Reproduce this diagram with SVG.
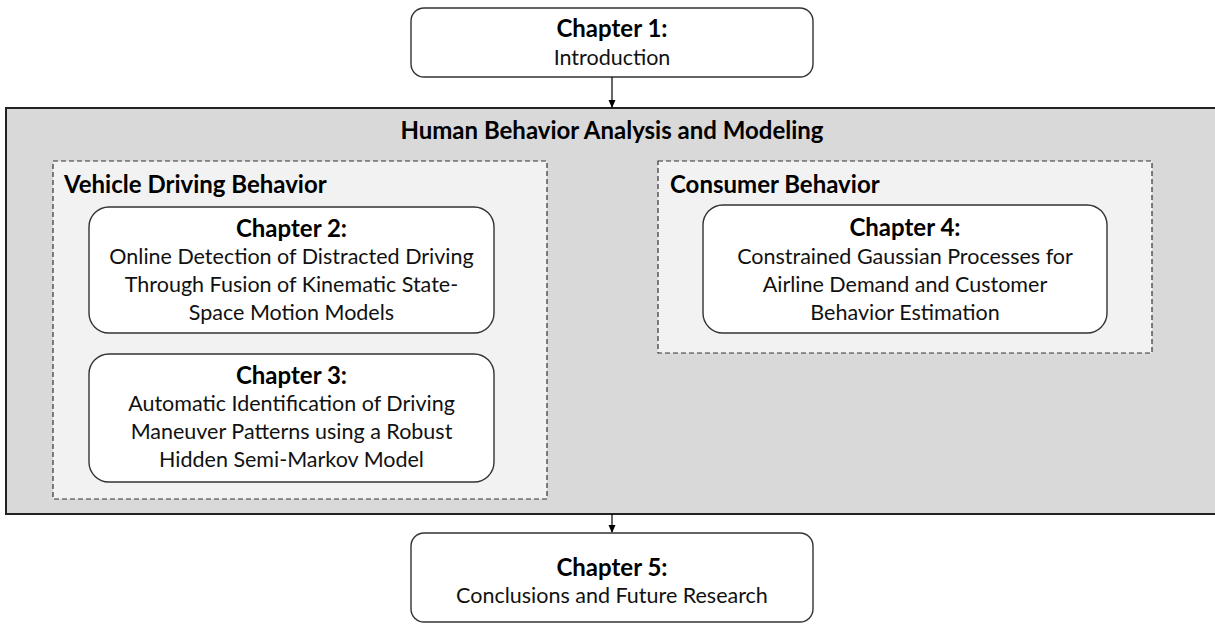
<svg xmlns="http://www.w3.org/2000/svg" width="1215" height="624" viewBox="0 0 1215 624">
<defs>
<marker id="arr" markerWidth="8" markerHeight="8" refX="7" refY="4" orient="auto" markerUnits="userSpaceOnUse">
<path d="M0,0.5 L8,4 L0,7.5 Z" fill="#000"/>
</marker>
<style>
.t{font-family:Lato,"Open Sans","Liberation Sans",sans-serif;font-size:21.5px;fill:#111;text-anchor:middle}
.h{font-family:Lato,"Open Sans","Liberation Sans",sans-serif;font-size:24px;font-weight:bold;fill:#000;text-anchor:middle}
.lbl{font-family:Lato,"Open Sans","Liberation Sans",sans-serif;font-size:24px;font-weight:bold;fill:#000}
.node{fill:#fff;stroke:#333;stroke-width:1.4}
.dash{fill:#f2f2f2;stroke:#333;stroke-width:1.2;stroke-dasharray:5,3}
.conn{stroke:#000;stroke-width:1.2;fill:none}
</style>
</defs>
<g id="panel-main">
<rect x="6" y="108" width="1215" height="406" fill="#d9d9d9" stroke="#222" stroke-width="2"/>
<text class="h" x="612" y="139">Human Behavior Analysis and Modeling</text>
</g>
<g id="panel-vehicle">
<rect class="dash" x="53" y="161" width="494" height="338"/>
<text class="lbl" x="64" y="193">Vehicle Driving Behavior</text>
</g>
<g id="panel-consumer">
<rect class="dash" x="658" y="161" width="494" height="192"/>
<text class="lbl" x="670" y="193">Consumer Behavior</text>
</g>
<g id="ch1">
<rect class="node" x="411" y="8" width="402" height="69" rx="13"/>
<text class="h" x="612" y="37">Chapter 1:</text>
<text class="t" x="612" y="65">Introduction</text>
</g>
<g id="ch2">
<rect class="node" x="89" y="207" width="405" height="126" rx="20"/>
<text class="h" x="291.5" y="237">Chapter 2:</text>
<text class="t" x="291.5" y="264">Online Detection of Distracted Driving</text>
<text class="t" x="291.5" y="292">Through Fusion of Kinematic State-</text>
<text class="t" x="291.5" y="320">Space Motion Models</text>
</g>
<g id="ch3">
<rect class="node" x="89" y="354" width="405" height="128" rx="20"/>
<text class="h" x="291.5" y="384">Chapter 3:</text>
<text class="t" x="291.5" y="411">Automatic Identification of Driving</text>
<text class="t" x="291.5" y="439">Maneuver Patterns using a Robust</text>
<text class="t" x="291.5" y="467">Hidden Semi-Markov Model</text>
</g>
<g id="ch4">
<rect class="node" x="703" y="205" width="404" height="128" rx="20"/>
<text class="h" x="905" y="236">Chapter 4:</text>
<text class="t" x="905" y="264">Constrained Gaussian Processes for</text>
<text class="t" x="905" y="292">Airline Demand and Customer</text>
<text class="t" x="905" y="320">Behavior Estimation</text>
</g>
<g id="ch5">
<rect class="node" x="411" y="533" width="402" height="89" rx="13"/>
<text class="h" x="612" y="576">Chapter 5:</text>
<text class="t" x="612" y="603">Conclusions and Future Research</text>
</g>
<g id="connectors">
<line class="conn" x1="612" y1="77" x2="612" y2="107" marker-end="url(#arr)"/>
<line class="conn" x1="612" y1="514" x2="612" y2="532" marker-end="url(#arr)"/>
</g>
</svg>
